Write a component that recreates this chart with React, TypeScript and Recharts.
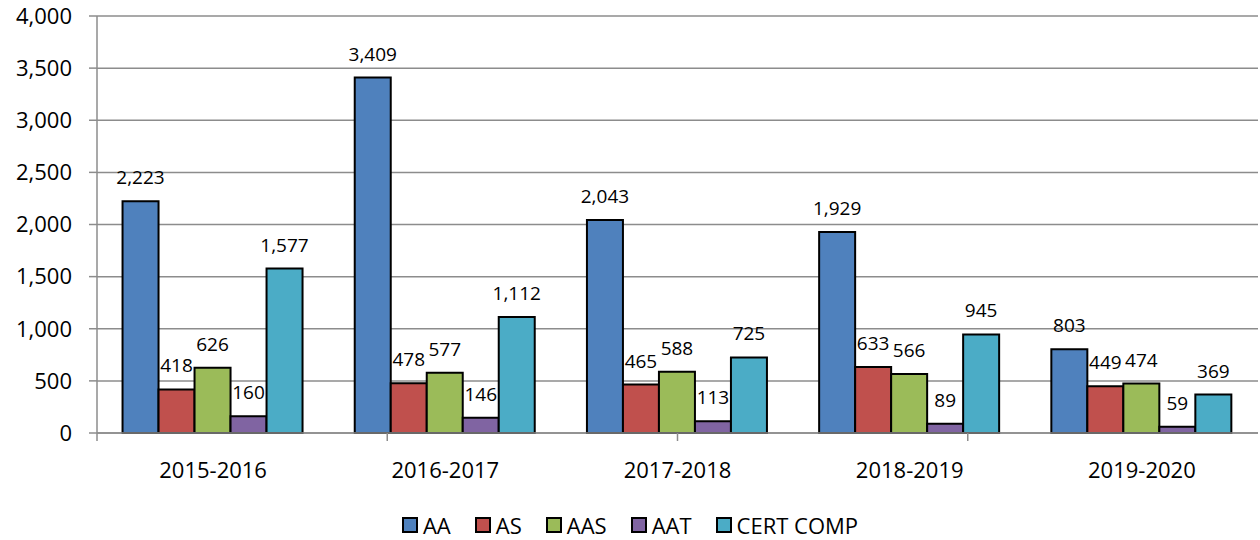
import { Bar, BarChart, CartesianGrid, LabelList, Legend, XAxis, YAxis } from "recharts"

const years = ["2015-2016", "2016-2017", "2017-2018", "2018-2019", "2019-2020"]
const aa = [2223, 3409, 2043, 1929, 803]
const as = [418, 478, 465, 633, 449]
const aas = [626, 577, 588, 566, 474]
const aat = [160, 146, 113, 89, 59]
const certComp = [1577, 1112, 725, 945, 369]
const yTicks = [0, 500, 1000, 1500, 2000, 2500, 3000, 3500, 4000]
const boundaryTicks = [0, 1, 2, 3, 4, 5]

const series = [
  { key: "aa", name: "AA", color: "#4F81BD" },
  { key: "as", name: "AS", color: "#C0504D" },
  { key: "aas", name: "AAS", color: "#9BBB59" },
  { key: "aat", name: "AAT", color: "#8064A2" },
  { key: "cert", name: "CERT COMP", color: "#4BACC6" },
]

const data = years.map((year, i) => ({
  year,
  aa: aa[i],
  as: as[i],
  aas: aas[i],
  aat: aat[i],
  cert: certComp[i],
}))

const FONT = "'Open Sans', sans-serif"
const GRID = "#8c8c8c"
const fmt = (v: number) => v.toLocaleString("en-US")

function LegendBoxes() {
  return (
    <div style={{ display: "flex", justifyContent: "center", gap: 24, fontFamily: FONT, fontSize: 22, color: "#000", height: 24, alignItems: "center" }}>
      {series.map((s) => (
        <div key={s.key} style={{ display: "flex", alignItems: "center", gap: 5 }}>
          <span style={{ width: 12, height: 12, background: s.color, border: "2px solid #000", display: "inline-block" }} />
          <span>{s.name}</span>
        </div>
      ))}
    </div>
  )
}

export default function App() {
  return (
    <div style={{ position: "absolute", left: 0, top: 0, width: 1260, height: 540, background: "#fff" }}>
      <BarChart
        width={1260}
        height={540}
        data={data}
        margin={{ top: 16, right: 2, left: 0, bottom: 33 }}
        barCategoryGap="11%"
        barGap={0}
      >
        <CartesianGrid vertical={false} stroke={GRID} strokeWidth={1.5} />
        <XAxis
          xAxisId="bounds"
          type="number"
          domain={[0, 5]}
          ticks={boundaryTicks}
          height={10}
          axisLine={{ stroke: GRID, strokeWidth: 1.5 }}
          tick={{ fontSize: 1, fill: "none" }}
          tickFormatter={() => ""}
          tickLine={{ stroke: GRID, strokeWidth: 1.5 }}
          tickSize={8}
        />
        <XAxis
          dataKey="year"
          xAxisId="cat"
          height={40}
          tickLine={false}
          axisLine={false}
          tickSize={0}
          tickMargin={19}
          tick={{ fontSize: 22, fill: "#000", fontFamily: FONT }}
        />
        <YAxis
          width={97}
          domain={[0, 4000]}
          ticks={yTicks}
          tickFormatter={fmt}
          axisLine={{ stroke: GRID, strokeWidth: 1.5 }}
          tickLine={{ stroke: GRID, strokeWidth: 1.5 }}
          tickSize={8}
          tickMargin={17}
          tick={{ fontSize: 22, fill: "#000", fontFamily: FONT }}
        />
        <Legend
          verticalAlign="bottom"
          wrapperStyle={{ top: 513, left: 0, width: 1260 }}
          content={() => <LegendBoxes />}
        />
        {series.map((s) => (
          <Bar
            key={s.key}
            xAxisId="cat"
            dataKey={s.key}
            name={s.name}
            fill={s.color}
            stroke="#000"
            strokeWidth={2}
            isAnimationActive={false}
          >
            <LabelList
              dataKey={s.key}
              position="top"
              offset={17}
              formatter={(v: any) => fmt(Number(v))}
              style={{ fontSize: 19, fill: "#000", fontFamily: FONT }}
            />
          </Bar>
        ))}
      </BarChart>
    </div>
  )
}
